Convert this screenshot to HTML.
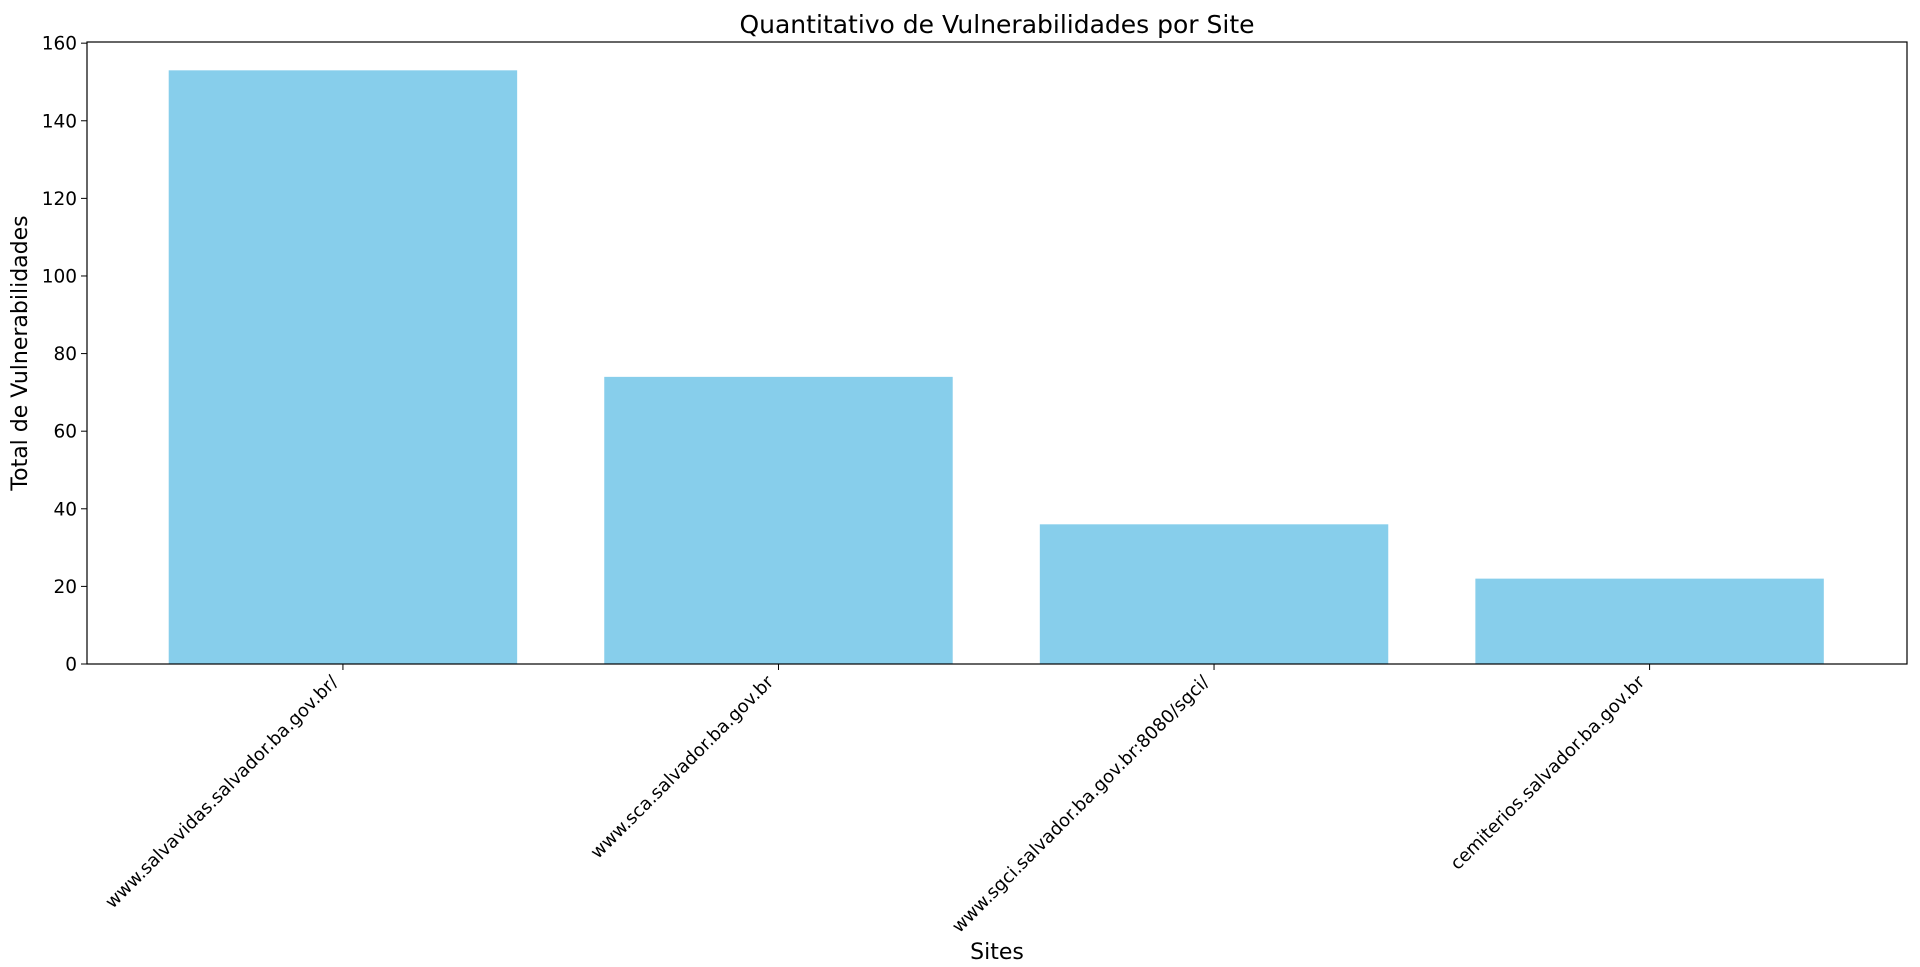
<!DOCTYPE html>
<html><head><meta charset="utf-8"><style>
html,body{margin:0;padding:0;background:#fff}
svg{display:block;font-family:"DejaVu Sans","Liberation Sans",sans-serif}
</style></head><body>
<svg id="chart" width="1920" height="967">
<rect x="0" y="0" width="1920" height="967" fill="#fff"/>
<g id="plot"></g>
</svg>
<script>
const categories = ["www.salvavidas.salvador.ba.gov.br/","www.sca.salvador.ba.gov.br","www.sgci.salvador.ba.gov.br:8080/sgci/","cemiterios.salvador.ba.gov.br"];
const values = [153, 74, 36, 22];
const yTicks = [0,20,40,60,80,100,120,140,160];

const L=87,R=1907,T=42,B=664;
const xMin=-0.5876,xMax=3.591;
const sx=v=>L+(v-xMin)/(xMax-xMin)*(R-L);
const sy=v=>B-v/160.3*(B-T);
const NS="http://www.w3.org/2000/svg";
const g=document.getElementById('plot');
function mk(t,a,txt){const e=document.createElementNS(NS,t);for(const k in a)e.setAttribute(k,a[k]);if(txt!=null)e.textContent=txt;g.appendChild(e);return e;}

values.forEach((v,i)=>{
  const w=(sx(0.4)-sx(-0.4));
  const r=mk('rect',{x:sx(i)-w/2,y:sy(v),width:w,height:B-sy(v),fill:'#87ceeb'});
  
  
});

const frame=mk('rect',{x:L,y:T,width:R-L,height:B-T,fill:'none',stroke:'#000','stroke-width':1.2});



yTicks.forEach(t=>{
  const y=sy(t);
  const tk=mk('line',{x1:L-6,x2:L,y1:y,y2:y,stroke:'#000','stroke-width':1});
  
  
  const lb=mk('text',{x:L-10,y:y+6.5,'text-anchor':'end','font-size':'18.5'},String(t));
  
  
});

categories.forEach((c,i)=>{
  const x=sx(i);
  const tk=mk('line',{x1:x,x2:x,y1:B,y2:B+6,stroke:'#000','stroke-width':1});
  
  
  const lb=mk('text',{transform:`translate(${x-4},${B+19}) rotate(-45)`,'text-anchor':'end','font-size':'18'},c);
  
  
});

const title=mk('text',{x:(L+R)/2,y:33,'text-anchor':'middle','font-size':'25'},'Quantitativo de Vulnerabilidades por Site');


const xt=mk('text',{x:(L+R)/2,y:959,'text-anchor':'middle','font-size':'22'},'Sites');


const yt=mk('text',{transform:`translate(27,${(T+B)/2}) rotate(-90)`,'text-anchor':'middle','font-size':'22'},'Total de Vulnerabilidades');


</script>
</body></html>
